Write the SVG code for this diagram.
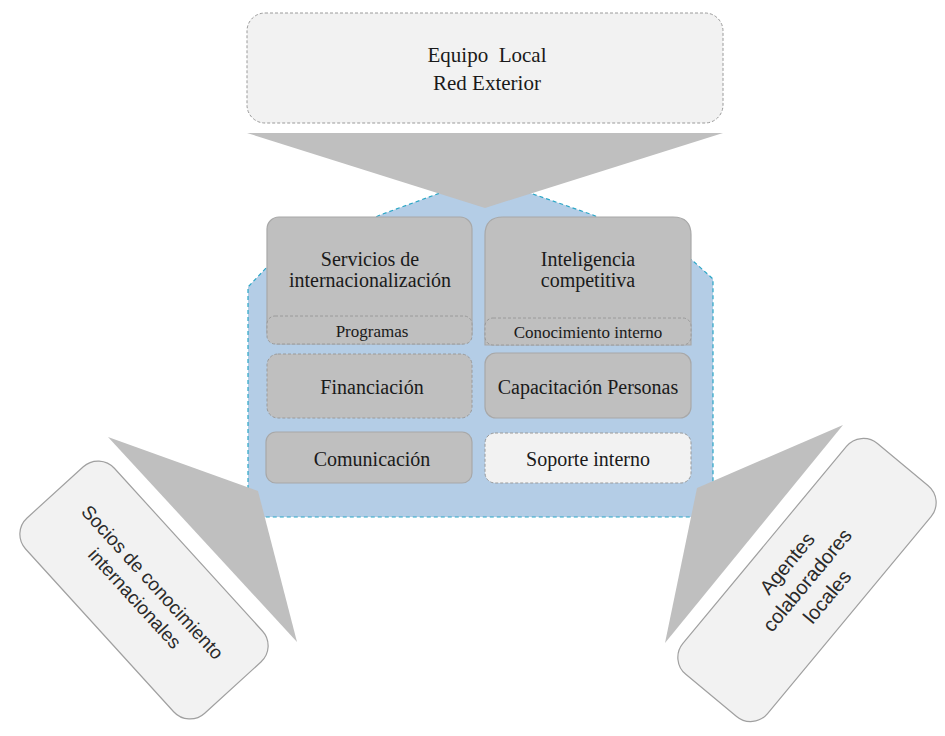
<svg xmlns="http://www.w3.org/2000/svg" width="945" height="736" viewBox="0 0 945 736">
<defs>
<style>
.serif{font-family:"Liberation Serif","Times New Roman",serif;fill:#1a1a1a;text-anchor:middle}
.sans{font-family:"Liberation Sans",Arial,sans-serif;fill:#2a2a2a;text-anchor:middle}
.main{font-size:20px}
.sub{font-size:17px}
.grayBox{fill:#bfbfbf;stroke:#a8a8a8;stroke-width:1.2}
.grayDash{fill:#bfbfbf;stroke:#9a9a9a;stroke-width:1;stroke-dasharray:3 2}
.lightDash{fill:#f2f2f2;stroke:#9a9a9a;stroke-width:1;stroke-dasharray:3 2}
.callout{fill:#f2f2f2;stroke:#a0a0a0;stroke-width:1.2}
.tri{fill:#bfbfbf}
</style>
</defs>
<rect width="945" height="736" fill="#ffffff"/>

<g id="base">
<polygon points="248,517 248,287 268,266 380,215 440,193 530,193 593,215 692,260 713,279 713,517" fill="#b4cde6" stroke="#2aa6c6" stroke-width="1.2" stroke-dasharray="4 3"/>
</g>

<g id="connectors">
<polygon class="tri" points="247,133 723,133 485,208"/>
<polygon class="tri" points="108,437 258,491 297,642"/>
<polygon class="tri" points="843,425 697,488 665,643"/>
</g>

<g id="top-node">
<rect x="247" y="13" width="476" height="110" rx="18" class="lightDash"/>
<text class="serif" x="487" y="62" font-size="21" xml:space="preserve">Equipo  Local</text>
<text class="serif" x="487" y="90" font-size="21">Red Exterior</text>
</g>

<g id="servicios">
<rect x="267" y="217" width="205" height="127" rx="12" class="grayBox"/>
<rect x="267" y="316" width="205" height="28" rx="8" class="grayDash"/>
<text class="serif main" x="370" y="266">Servicios de</text>
<text class="serif main" x="370" y="287">internacionalización</text>
<text class="serif sub" x="372" y="337">Programas</text>
</g>

<g id="inteligencia">
<path d="M485,345 L485,235 Q485,217 503,217 L673,217 Q691,217 691,235 L691,345 Z" class="grayBox"/>
<rect x="485" y="318" width="206" height="27" rx="8" class="grayDash"/>
<text class="serif main" x="588" y="266">Inteligencia</text>
<text class="serif main" x="588" y="287">competitiva</text>
<text class="serif sub" x="588" y="338">Conocimiento interno</text>
</g>

<g id="financiacion">
<rect x="267" y="354" width="205" height="64" rx="11" class="grayDash"/>
<text class="serif main" x="372" y="394">Financiación</text>
</g>

<g id="capacitacion">
<rect x="485" y="353" width="206" height="65" rx="11" class="grayBox"/>
<text class="serif main" x="588" y="394">Capacitación Personas</text>
</g>

<g id="comunicacion">
<rect x="266" y="432" width="206" height="51" rx="10" class="grayBox"/>
<text class="serif main" x="372" y="466">Comunicación</text>
</g>

<g id="soporte">
<rect x="485" y="433" width="206" height="50" rx="10" class="lightDash"/>
<text class="serif main" x="588" y="466">Soporte interno</text>
</g>

<g id="socios" transform="translate(144,590) rotate(47.7)">
<rect x="-132" y="-60" width="264" height="120" rx="22" class="callout"/>
<text class="sans" font-size="19" x="0" y="-5">Socios de conocimiento</text>
<text class="sans" font-size="19" x="0" y="19">internacionales</text>
</g>

<g id="agentes" transform="translate(807,580) rotate(-50.3)">
<rect x="-150" y="-55" width="300" height="110" rx="22" class="callout"/>
<text class="sans" font-size="20" x="0" y="-19">Agentes</text>
<text class="sans" font-size="20" x="0" y="7">colaboradores</text>
<text class="sans" font-size="20" x="0" y="33">locales</text>
</g>
</svg>
